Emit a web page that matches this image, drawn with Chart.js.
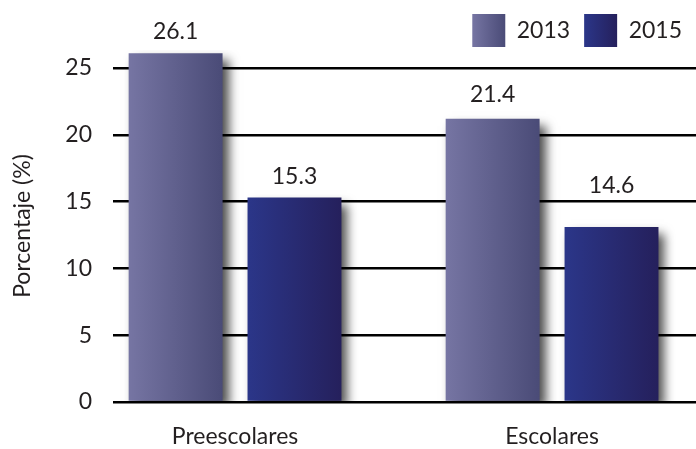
<!DOCTYPE html>
<html>
<head>
<meta charset="utf-8">
<script src="https://cdn.jsdelivr.net/npm/chart.js@4.4.1/dist/chart.umd.min.js"></script>
<style>
  html, body { margin: 0; padding: 0; background: #fff; overflow: hidden; }
  #wrap { width: 696px; height: 449px; }
</style>
</head>
<body>
<div id="wrap"><canvas id="chart"></canvas></div>
<script>
// datos
const categories = ["Preescolares", "Escolares"];
const years = ["2013", "2015"];
const values2013 = [26.1, 21.2];
const values2015 = [15.3, 13.1];
const labels2013 = ["26.1", "21.4"];
const labels2015 = ["15.3", "14.6"];
const yTicks = [0, 5, 10, 15, 20, 25];

// estilos
const barColors = [
    ["#7675a3", "#4a4b77"],
    ["#2b3689", "#25205c"]
];
const textColor = "#231f20";

Chart.defaults.font.family = "Lato";
Chart.defaults.color = textColor;

// degradado horizontal en barras y leyenda
const gradientPlugin = {
    id: "gradients",
    beforeDraw(chart) {
        const ctx = chart.ctx;
        chart.data.datasets.forEach((ds, d) => {
            chart.getDatasetMeta(d).data.forEach(bar => {
                const g = ctx.createLinearGradient(bar.x - bar.width / 2, 0, bar.x + bar.width / 2, 0);
                g.addColorStop(0, barColors[d][0]);
                g.addColorStop(1, barColors[d][1]);
                bar.options.backgroundColor = g;
            });
        });
        const legend = chart.legend;
        legend.legendItems.forEach((item, i) => {
            const hb = legend.legendHitBoxes[i];
            const g = ctx.createLinearGradient(hb.left, 0, hb.left + 33, 0);
            g.addColorStop(0, barColors[i][0]);
            g.addColorStop(1, barColors[i][1]);
            item.fillStyle = g;
        });
    }
};

// sombra de las barras
const shadowPlugin = {
    id: "barShadow",
    beforeDatasetDraw(chart) {
        const ctx = chart.ctx;
        ctx.save();
        ctx.shadowColor = "rgba(0, 0, 0, 0.7)";
        ctx.shadowBlur = 10;
        ctx.shadowOffsetX = 6;
        ctx.shadowOffsetY = 7;
    },
    afterDatasetDraw(chart) {
        chart.ctx.restore();
    }
};

// etiquetas de valor
const valueLabelPlugin = {
    id: "valueLabels",
    afterDatasetsDraw(chart) {
        const ctx = chart.ctx;
        const yScale = chart.scales.y;
        ctx.save();
        ctx.font = "23px Lato";
        ctx.fillStyle = textColor;
        ctx.textAlign = "center";
        ctx.textBaseline = "alphabetic";
        [labels2013, labels2015].forEach((texts, d) => {
            chart.getDatasetMeta(d).data.forEach((bar, i) => {
                ctx.fillText(texts[i], bar.x, yScale.getPixelForValue(parseFloat(texts[i])) - 14);
            });
        });
        ctx.restore();
    }
};

const datasets = [values2013, values2015].map((values, d) => ({
    label: years[d],
    data: values,
    backgroundColor: () => barColors[d][1],
    borderWidth: 0,
    categoryPercentage: 0.75,
    barPercentage: 0.79
}));

new Chart(document.getElementById("chart"), {
    type: "bar",
    data: {
        labels: categories.map((c, i) => i),
        datasets
    },
    options: {
        responsive: true,
        maintainAspectRatio: false,
        animation: false,
        events: [],
        layout: { padding: 0 },
        plugins: {
            legend: {
                position: "top",
                align: "end",
                maxHeight: 50,
                labels: { boxWidth: 33, boxHeight: 33, padding: 14, font: { size: 23 } }
            },
            tooltip: { enabled: false }
        },
        scales: {
            x: {
                type: "linear",
                offset: false,
                min: -0.385,
                max: 1.454,
                grid: { display: false, offset: false },
                border: { display: false },
                afterBuildTicks: scale => {
                    scale.ticks = categories.map((c, i) => ({ value: i }));
                },
                ticks: {
                    callback: (value, index) => categories[index],
                    padding: 13,
                    autoSkip: false,
                    maxRotation: 0,
                    font: { size: 23 }
                },
                afterFit: scale => { scale.height = 47; }
            },
            y: {
                min: 0,
                max: 26.35,
                afterBuildTicks: scale => {
                    scale.ticks = yTicks.map(v => ({ value: v }));
                },
                grid: { color: "#000", lineWidth: 2.5, drawTicks: false },
                border: { display: false },
                ticks: { padding: 21, font: { size: 23 } },
                title: {
                    display: true,
                    text: "Porcentaje (%)",
                    font: { size: 23 },
                    padding: { top: 9, bottom: 0 }
                },
                afterFit: scale => { scale.width = 113; }
            }
        }
    },
    plugins: [gradientPlugin, shadowPlugin, valueLabelPlugin]
});
</script>
</body>
</html>
